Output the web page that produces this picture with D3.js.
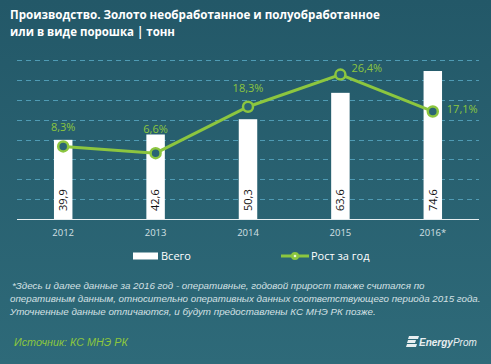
<!DOCTYPE html>
<html><head><meta charset="utf-8">
<script src="https://cdn.jsdelivr.net/npm/d3@7/dist/d3.min.js"></script>
<style>html,body{margin:0;padding:0;background:#28606f;}svg{display:block;}</style>
</head><body>
<script>
const categories = ["2012", "2013", "2014", "2015", "2016*"];
const totalValues = [39.9, 42.6, 50.3, 63.6, 74.6];
const growthValues = [8.3, 6.6, 18.3, 26.4, 17.1];
const totalLabels = ["39,9", "42,6", "50,3", "63,6", "74,6"];
const growthLabels = ["8,3%", "6,6%", "18,3%", "26,4%", "17,1%"];
const leftTicks = [10, 20, 30, 40, 50, 60, 70, 80];
const legendLabels = ["Всего", "Рост за год"];
const titleLines = ["Производство. Золото необработанное и полуобработанное", "или в виде порошка | тонн"];
const footLines = [
  "*Здесь и далее данные за 2016 год - оперативные, годовой прирост также считался по",
  "оперативным данным, относительно оперативных данных соответствующего периода 2015 года.",
  "Уточненные данные отличаются, и будут предоставлены КС МНЭ РК позже."
];
const sourceText = "Источник: КС МНЭ РК";

const W = 491, H = 364;
const green = "#8cc63f";
const svg = d3.select("body").append("svg").attr("width", W).attr("height", H);
const defs = svg.append("defs");
const grad = defs.append("linearGradient").attr("id", "bg").attr("x1", 0).attr("y1", 0).attr("x2", 0).attr("y2", 1);
grad.append("stop").attr("offset", "0%").attr("stop-color", "#235868");
grad.append("stop").attr("offset", "100%").attr("stop-color", "#2e6a79");
svg.append("rect").attr("width", W).attr("height", H).attr("fill", "url(#bg)");

function fit(sel, target) {
  const n = sel.node();
  const w = n.getComputedTextLength();
  const fs = parseFloat(sel.attr("font-size"));
  sel.attr("font-size", (fs * target / w).toFixed(2));
}

// title
const tW = [370, 165];
titleLines.forEach((t, i) => {
  const s = svg.append("text").attr("x", 10).attr("y", 19 + i * 17)
    .attr("font-family", "'Open Sans', 'Noto Sans', sans-serif").attr("font-weight", "bold")
    .attr("font-size", 13).attr("fill", "#ffffff").text(t);
  fit(s, tW[i]);
});

// scales
const x = d3.scaleBand().domain(categories).range([17, 479]).paddingInner(0.8).paddingOuter(0.4);
const y = d3.scaleLinear().domain([0, 80]).range([219, 60.3]);
const y2 = d3.scaleLinear().domain([-10, 30]).range([219, 60.3]);

// gridlines
svg.append("g").selectAll("line").data(leftTicks).join("line")
  .attr("x1", 17).attr("x2", 479)
  .attr("y1", d => Math.round(y(d)) + 0.5).attr("y2", d => Math.round(y(d)) + 0.5)
  .attr("stroke", "#4f9bb4").attr("stroke-width", 1).attr("stroke-dasharray", "5,4");

// bars
svg.append("g").selectAll("rect").data(totalValues).join("rect")
  .attr("x", (d, i) => x(categories[i]))
  .attr("width", x.bandwidth())
  .attr("y", d => y(d)).attr("height", d => y(0) - y(d))
  .attr("fill", "#ffffff");

// baseline
svg.append("line").attr("x1", 17).attr("x2", 479).attr("y1", 219.5).attr("y2", 219.5)
  .attr("stroke", "#e6eef0").attr("stroke-width", 1);

// bar value labels
svg.append("g").selectAll("text").data(totalLabels).join("text")
  .attr("transform", (d, i) => `translate(${x(categories[i]) + x.bandwidth() / 2 + 3.8},211) rotate(-90)`)
  .attr("font-family", "'Open Sans', 'Noto Sans', sans-serif").attr("font-size", 11)
  .attr("fill", "#111").attr("text-anchor", "start").text(d => d);

// x axis labels
svg.append("g").selectAll("text").data(categories).join("text")
  .attr("x", d => x(d) + x.bandwidth() / 2).attr("y", 236)
  .attr("text-anchor", "middle").attr("font-family", "'Open Sans', 'Noto Sans', sans-serif")
  .attr("font-size", 9.5).attr("fill", "#d4e0e4").text(d => d);

// line
const cx = i => x(categories[i]) + x.bandwidth() / 2;
const line = d3.line().x((d, i) => cx(i)).y(d => y2(d));
svg.append("path").datum(growthValues).attr("d", line)
  .attr("fill", "none").attr("stroke", green).attr("stroke-width", 3);
svg.append("g").selectAll("circle").data(growthValues).join("circle")
  .attr("cx", (d, i) => cx(i)).attr("cy", d => y2(d)).attr("r", 5)
  .attr("fill", "#2a6474").attr("stroke", green).attr("stroke-width", 2.5);

// growth labels (offsets of baseline from point)
const lblPos = [[0, -15, "middle"], [0, -20, "middle"], [0, -15, "middle"], [11, -2.5, "start"], [14, 1.5, "start"]];
svg.append("g").selectAll("text").data(growthLabels).join("text")
  .attr("x", (d, i) => cx(i) + lblPos[i][0])
  .attr("y", (d, i) => y2(growthValues[i]) + lblPos[i][1])
  .attr("text-anchor", (d, i) => lblPos[i][2])
  .attr("font-family", "'Open Sans', 'Noto Sans', sans-serif").attr("font-size", 11)
  .attr("fill", green).text(d => d);

// legend
svg.append("rect").attr("x", 133).attr("y", 252.5).attr("width", 25).attr("height", 7).attr("fill", "#fff");
svg.append("text").attr("x", 161).attr("y", 260).attr("font-family", "'Open Sans', 'Noto Sans', sans-serif")
  .attr("font-size", 11).attr("fill", "#fff").text(legendLabels[0]);
svg.append("line").attr("x1", 281).attr("x2", 309).attr("y1", 256).attr("y2", 256).attr("stroke", green).attr("stroke-width", 3);
svg.append("circle").attr("cx", 295).attr("cy", 256).attr("r", 4).attr("fill", green);
svg.append("circle").attr("cx", 295).attr("cy", 256).attr("r", 1.3).attr("fill", "#e8f5d8");
svg.append("text").attr("x", 311).attr("y", 260).attr("font-family", "'Open Sans', 'Noto Sans', sans-serif")
  .attr("font-size", 11).attr("fill", "#fff").text(legendLabels[1]);

// footnote
const fX = [12, 10, 10], fWd = [413, 471, 366];
footLines.forEach((t, i) => {
  const s = svg.append("text").attr("x", fX[i]).attr("y", 289 + i * 13)
    .attr("font-family", "'Liberation Sans', sans-serif").attr("font-style", "italic")
    .attr("font-size", 10).attr("fill", "#d4e0e4").text(t);
  fit(s, fWd[i]);
});
const src = svg.append("text").attr("x", 14).attr("y", 346)
  .attr("font-family", "'Liberation Sans', sans-serif").attr("font-style", "italic")
  .attr("font-size", 11).attr("fill", green).text(sourceText);
fit(src, 114);

// logo
const logo = svg.append("g").attr("transform", "translate(405,336)");
[0, 4, 8].forEach((dy, i) => {
  logo.append("path").attr("d", `M${2 + (8 - dy) * 0.25},${dy} h${i === 1 ? 8 : 10} l-1,3 h${i === 1 ? -8 : -10} z`).attr("fill", "#e8eef0");
});
const lt = logo.append("text").attr("x", 14).attr("y", 10).attr("font-family", "'Liberation Sans', sans-serif")
  .attr("font-style", "italic").attr("font-size", 10).attr("fill", "#e8eef0");
lt.append("tspan").attr("font-weight", "bold").text("Energy");
lt.append("tspan").text("Prom");
</script>
</body></html>
